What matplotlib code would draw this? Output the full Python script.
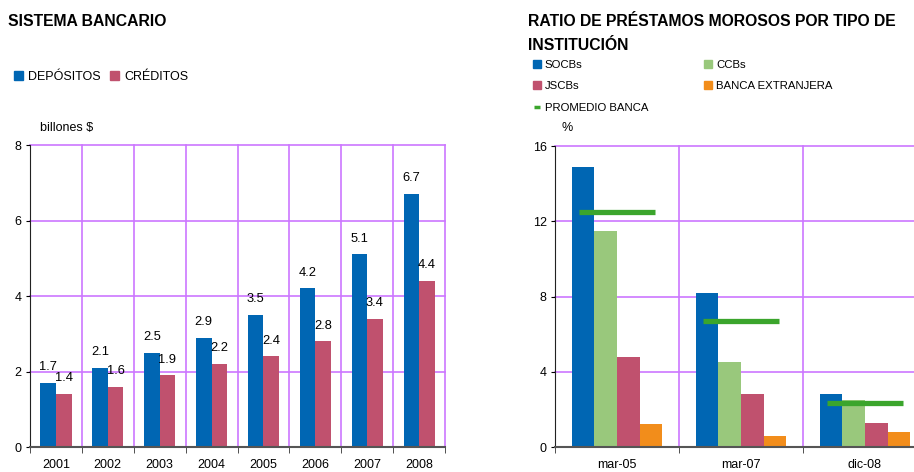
import numpy as np
import matplotlib
matplotlib.use("Agg")
import matplotlib.pyplot as plt
from matplotlib.patches import Patch
from matplotlib.lines import Line2D

plt.rcParams['font.family'] = ['Liberation Sans', 'DejaVu Sans']

# datos - sistema bancario
years = ['2001', '2002', '2003', '2004', '2005', '2006', '2007', '2008']
depositos = [1.7, 2.1, 2.5, 2.9, 3.5, 4.2, 5.1, 6.7]
creditos = [1.4, 1.6, 1.9, 2.2, 2.4, 2.8, 3.4, 4.4]

# datos - ratio de prestamos morosos
periodos = ['mar-05', 'mar-07', 'dic-08']
socbs = [14.9, 8.2, 2.8]
ccbs = [11.5, 4.5, 2.5]
jscbs = [4.8, 2.8, 1.3]
extranjera = [1.2, 0.6, 0.8]
promedio = [12.5, 6.7, 2.35]

AZUL = '#0066B3'
ROJO = '#C0516E'
VERDE = '#99C87C'
NARANJA = '#F28D1B'
VERDE2 = '#3BA52C'
GRID = '#CC77FF'

W, H = 914, 472
fig = plt.figure(figsize=(W / 100, H / 100), dpi=100)


def px(x0, y0, x1, y1):
    # rectangulo en pixeles -> coordenadas de figura
    return [x0 / W, 1 - y1 / H, (x1 - x0) / W, (y1 - y0) / H]


def estilo(ax, n, ymax, step):
    ax.set_xlim(-0.5, n - 0.5)
    ax.set_ylim(0, ymax)
    ax.set_yticks(np.arange(0, ymax + 1, step))
    ax.set_xticks(np.arange(n))
    ax.set_xticks(np.arange(n + 1) - 0.5, minor=True)
    for y in np.arange(step, ymax + 1, step):
        ax.axhline(y, color=GRID, lw=1.2, zorder=0, clip_on=False)
    for x in np.arange(1, n + 1) - 0.5:
        ax.axvline(x, color=GRID, lw=1.2, zorder=0, clip_on=False)
    for s in ['top', 'right']:
        ax.spines[s].set_visible(False)
    ax.spines['left'].set_color('#222222')
    ax.spines['bottom'].set_color('#555555')
    ax.spines['bottom'].set_linewidth(1.5)
    ax.tick_params(axis='x', which='major', length=0, labelsize=9, pad=9)
    ax.tick_params(axis='x', which='minor', length=4, direction='out', color='#333333')
    ax.tick_params(axis='y', length=3, direction='out', labelsize=9, pad=3)


# ---- grafico izquierdo ----
ax1 = fig.add_axes(px(30, 145, 445, 447))
x = np.arange(len(years))
bw = 0.3
b1 = ax1.bar(x - bw / 2, depositos, bw, color=AZUL, zorder=2)
b2 = ax1.bar(x + bw / 2, creditos, bw, color=ROJO, zorder=2)
ax1.bar_label(b1, labels=[f'{v:.1f}' for v in depositos], padding=7, fontsize=9.3)
ax1.bar_label(b2, labels=[f'{v:.1f}' for v in creditos], padding=7, fontsize=9.3)
estilo(ax1, len(years), 8, 2)
ax1.set_xticklabels(years)

fig.text(8 / W, 1 - 22 / H, 'SISTEMA BANCARIO', fontsize=11.3, fontweight='bold', va='center')
fig.text(40 / W, 1 - 128 / H, 'billones $', fontsize=9, va='center')
fig.legend(handles=[Patch(color=AZUL, label='DEPÓSITOS'), Patch(color=ROJO, label='CRÉDITOS')],
           loc='center left', bbox_to_anchor=(14 / W, 1 - 77 / H), ncol=2, frameon=False,
           fontsize=9, handlelength=0.7, handleheight=0.7, handletextpad=0.4,
           columnspacing=0.8, borderaxespad=0, borderpad=0)

# ---- grafico derecho ----
ax2 = fig.add_axes(px(555, 146, 927, 447))
x2 = np.arange(len(periodos))
bw2 = 0.182
for i, (serie, c) in enumerate([(socbs, AZUL), (ccbs, VERDE), (jscbs, ROJO), (extranjera, NARANJA)]):
    ax2.bar(x2 + (i - 1.5) * bw2, serie, bw2, color=c, zorder=2)
ax2.hlines(promedio, x2 - 0.31, x2 + 0.31, color=VERDE2, lw=3.8, zorder=3)
estilo(ax2, len(periodos), 16, 4)
ax2.set_xticklabels(periodos)

fig.text(528 / W, 1 - 22 / H, 'RATIO DE PRÉSTAMOS MOROSOS POR TIPO DE', fontsize=11.3,
         fontweight='bold', va='center')
fig.text(528 / W, 1 - 45 / H, 'INSTITUCIÓN', fontsize=11.3, fontweight='bold', va='center')
fig.text(562 / W, 1 - 128 / H, '%', fontsize=9, va='center')

col1 = [Patch(color=AZUL, label='SOCBs'), Patch(color=ROJO, label='JSCBs'),
        Line2D([], [], color=VERDE2, marker='_', ms=5, mew=2.5, ls='none', label='PROMEDIO BANCA')]
col2 = [Patch(color=VERDE, label='CCBs'), Patch(color=NARANJA, label='BANCA EXTRANJERA')]
leg_kw = dict(loc='upper left', frameon=False, fontsize=8.2, handlelength=0.7, handleheight=0.7,
              handletextpad=0.35, labelspacing=1.0, borderaxespad=0, borderpad=0)
fig.legend(handles=col1, bbox_to_anchor=(533 / W, 1 - 60 / H), **leg_kw)
fig.legend(handles=col2, bbox_to_anchor=(704 / W, 1 - 60 / H), **leg_kw)

fig.savefig('out.png', dpi=100)
